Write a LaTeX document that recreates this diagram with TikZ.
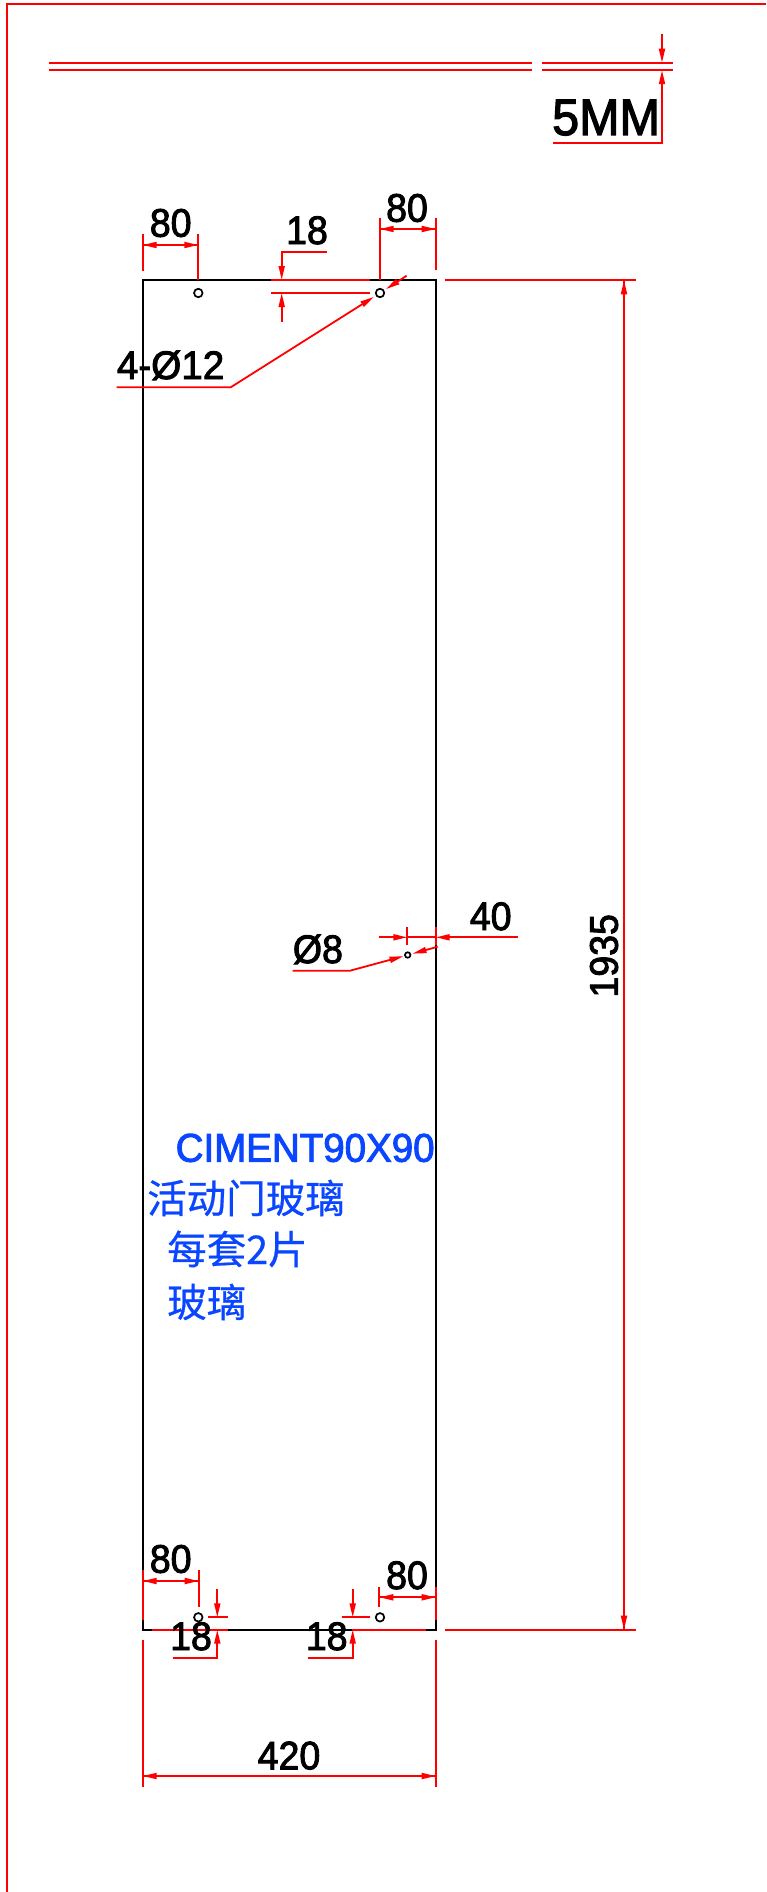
\documentclass[tikz,border=0pt]{standalone}
\usepackage{fontspec}
\setmainfont{Liberation Sans}
\newfontfamily\cadfont[FakeBold=2.4]{Liberation Sans}
\newfontfamily\cjk[FakeBold=0.6]{Noto Sans CJK SC}
\usetikzlibrary{arrows.meta}
\definecolor{cadred}{RGB}{255,0,0}
\definecolor{cadblue}{RGB}{10,70,255}
\tikzset{
  x=1pt,y=-1pt,
  redline/.style={draw=cadred,line width=1.8pt},
  dimline/.style={redline,-{Stealth[length=14pt,width=6pt,inset=0pt]}},
  outline/.style={draw=black,line width=1.9pt},
  hole/.style={circle,draw=black,line width=1.7pt,inner sep=0pt,minimum size=8.5pt},
  smallhole/.style={circle,draw=black,line width=1.7pt,inner sep=0pt,minimum size=5.5pt},
  dimtext/.style={inner sep=0pt,text=black,yscale=1.06,font=\cadfont\fontsize{37.5}{37.5}\selectfont},
  notetext/.style={inner sep=0pt,text=cadblue,yscale=1.04,font=\cadfont\fontsize{38.5}{39}\selectfont},
  cjktext/.style={inner sep=0pt,text=cadblue,font=\cjk\fontsize{39.5}{39}\selectfont},
}
\begin{document}
\begin{tikzpicture}
\useasboundingbox (0,0) rectangle (766,1892);
% drawing frame
\coordinate (fa) at (6.8,1892); \coordinate (fb) at (6.8,4.3); \coordinate (fc) at (766,4.3);
\draw[redline] (fa) -- (fb) -- (fc);
% double lines
\coordinate (d1a) at (49,62.7); \coordinate (d1b) at (532,62.7);
\coordinate (d2a) at (49,70.2); \coordinate (d2b) at (532,70.2);
\coordinate (d3a) at (542,62.7); \coordinate (d3b) at (673,62.7);
\coordinate (d4a) at (542,70.2); \coordinate (d4b) at (673,70.2);
\draw[redline] (d1a) -- (d1b) (d2a) -- (d2b) (d3a) -- (d3b) (d4a) -- (d4b);
% glass panel
\coordinate (pTL) at (142.7,280); \coordinate (pTR) at (435.7,280);
\coordinate (pBR) at (435.7,1629.7); \coordinate (pBL) at (142.7,1629.7);
\draw[outline] (pTL) -- (pTR) -- (pBR) -- (pBL) -- cycle;
\node[hole] (h1) at (198.3,293) {};
\node[hole] (h2) at (380,293) {};
\node[hole] (h3) at (198.3,1617.3) {};
\node[hole] (h4) at (380,1617.3) {};
\node[smallhole] (h5) at (407.7,955) {};
% 5MM
\coordinate (m1) at (662,34); \coordinate (m2) at (662,62.7);
\coordinate (m3) at (662,70.2); \coordinate (m4) at (662,142.7); \coordinate (m5) at (553,142.7);
\draw[dimline] (m1) -- (m2);
\draw[dimline] (m5) -- (m4) -- (m3);
\node[inner sep=0pt,anchor=base west,yscale=1.06,font=\cadfont\fontsize{48.5}{50}\selectfont] (t5mm) at (552,135) {5MM};
% top 80 left
\coordinate (a1) at (142.7,234); \coordinate (a2) at (142.7,270.7);
\coordinate (a3) at (198.3,234); \coordinate (a4) at (198.3,280);
\coordinate (a5) at (142.7,245); \coordinate (a6) at (198.3,245);
\draw[redline] (a1) -- (a2) (a3) -- (a4);
\draw[dimline] (a5) -- (a6);
\draw[dimline] (a6) -- (a5);
\node[dimtext,anchor=base] (t80a) at (170.7,236.7) {80};
% top 80 right
\coordinate (b1) at (379.7,218); \coordinate (b2) at (379.7,280);
\coordinate (b3) at (435.7,218); \coordinate (b4) at (435.7,270);
\coordinate (b5) at (379.7,229); \coordinate (b6) at (435.7,229);
\draw[redline] (b1) -- (b2) (b3) -- (b4);
\draw[dimline] (b5) -- (b6);
\draw[dimline] (b6) -- (b5);
\node[dimtext,anchor=base] (t80b) at (407,221.7) {80};
% top 18
\coordinate (c1) at (326.7,252); \coordinate (c2) at (281.7,252); \coordinate (c3) at (281.7,280);
\coordinate (c4) at (281.7,321.7); \coordinate (c5) at (281.7,293);
\coordinate (c6) at (271,280); \coordinate (c7) at (370,280);
\coordinate (c8) at (271,293); \coordinate (c9) at (370,293);
\draw[dimline] (c1) -- (c2) -- (c3);
\draw[dimline] (c4) -- (c5);
\draw[redline] (c6) -- (c7) (c8) -- (c9);
\node[dimtext,anchor=base] (t18a) at (307,244) {18};
% 4-dia12 leader
\coordinate (e1) at (116.7,387.3); \coordinate (e2) at (230.7,387.3);
\coordinate (e3) at (374,296.8); \coordinate (e4) at (406.7,275.7); \coordinate (e5) at (386,289.1);
\draw[dimline] (e1) -- (e2) -- (e3);
\draw[dimline] (e4) -- (e5);
\node[dimtext,anchor=base west,xscale=1.03] (t412) at (116.7,379) {4-Ø12};
% dia8 and 40
\coordinate (g1) at (292.7,970.7); \coordinate (g2) at (350,970.7); \coordinate (g3) at (403.5,956.2);
\coordinate (g4) at (437.7,946.7); \coordinate (g5) at (412.5,953.7);
\draw[dimline] (g1) -- (g2) -- (g3);
\draw[dimline] (g4) -- (g5);
\node[dimtext,anchor=base west] (td8) at (292.7,963) {Ø8};
\coordinate (k1) at (379,937.3); \coordinate (k2) at (407.3,937.3);
\coordinate (k3) at (518,937.3); \coordinate (k4) at (435.7,937.3);
\coordinate (k5) at (407.3,926.7); \coordinate (k6) at (407.3,945);
\coordinate (k7) at (435.7,926.7); \coordinate (k8) at (435.7,945);
\draw[dimline] (k1) -- (k2);
\draw[dimline] (k3) -- (k4);
\draw[redline] (k5) -- (k6) (k7) -- (k8) (k2) -- (k4);
\node[dimtext,anchor=base] (t40) at (490.7,930) {40};
% blue notes
\node[notetext,anchor=base west] (n1) at (175.5,1161.7) {CIMENT90X90};
\node[cjktext,anchor=base west] (n2) at (147,1213) {活动门玻璃};
\node[cjktext,anchor=base west] (n3) at (167,1264) {每套2片};
\node[cjktext,anchor=base west] (n4) at (167,1317) {玻璃};
% 1935
\coordinate (v1) at (445,280.3); \coordinate (v2) at (635.7,280.3);
\coordinate (v3) at (445,1629.7); \coordinate (v4) at (635.7,1629.7);
\coordinate (v5) at (624,280.3); \coordinate (v6) at (624,1629.7);
\draw[redline] (v1) -- (v2) (v3) -- (v4);
\draw[dimline] (v5) -- (v6);
\draw[dimline] (v6) -- (v5);
\node[inner sep=0pt,text=black,xscale=1.06,font=\cadfont\fontsize{37.5}{37.5}\selectfont,anchor=base,rotate=90] (t1935) at (617.7,955.8) {1935};
% bottom 80 left
\coordinate (p1) at (142.7,1570); \coordinate (p2) at (142.7,1620);
\coordinate (p3) at (198.7,1570); \coordinate (p4) at (198.7,1607);
\coordinate (p5) at (142.7,1581); \coordinate (p6) at (198.7,1581);
\draw[redline] (p1) -- (p2) (p3) -- (p4);
\draw[dimline] (p5) -- (p6);
\draw[dimline] (p6) -- (p5);
\node[dimtext,anchor=base] (t80c) at (170.7,1572.7) {80};
% bottom 80 right
\coordinate (q1) at (379.3,1586.7); \coordinate (q2) at (379.3,1607);
\coordinate (q3) at (435.7,1586.7); \coordinate (q4) at (435.7,1620);
\coordinate (q5) at (379.3,1597.3); \coordinate (q6) at (435.7,1597.3);
\draw[redline] (q1) -- (q2) (q3) -- (q4);
\draw[dimline] (q5) -- (q6);
\draw[dimline] (q6) -- (q5);
\node[dimtext,anchor=base] (t80d) at (407,1589) {80};
% bottom red overlays
\coordinate (r1) at (152.3,1629.7); \coordinate (r2) at (228.3,1629.7);
\coordinate (r3) at (351.7,1629.7); \coordinate (r4) at (426,1629.7);
\draw[redline] (r1) -- (r2) (r3) -- (r4);
% bottom 18 left
\coordinate (s1) at (217.3,1589.3); \coordinate (s2) at (217.3,1617.3);
\coordinate (s3) at (172.7,1657.7); \coordinate (s4) at (217.3,1657.7); \coordinate (s5) at (217.3,1629.7);
\coordinate (s6) at (208.3,1617.3); \coordinate (s7) at (228.3,1617.3);
\draw[dimline] (s1) -- (s2);
\draw[dimline] (s3) -- (s4) -- (s5);
\draw[redline] (s6) -- (s7);
\node[dimtext,anchor=base] (t18b) at (191,1650) {18};
% bottom 18 right
\coordinate (u1) at (352.7,1589.3); \coordinate (u2) at (352.7,1617.3);
\coordinate (u3) at (307.7,1657.7); \coordinate (u4) at (352.7,1657.7); \coordinate (u5) at (352.7,1629.7);
\coordinate (u6) at (341.7,1617.3); \coordinate (u7) at (370,1617.3);
\draw[dimline] (u1) -- (u2);
\draw[dimline] (u3) -- (u4) -- (u5);
\draw[redline] (u6) -- (u7);
\node[dimtext,anchor=base] (t18c) at (326.7,1650) {18};
% 420
\coordinate (w1) at (142.7,1640); \coordinate (w2) at (142.7,1786.7);
\coordinate (w3) at (435.7,1640); \coordinate (w4) at (435.7,1786.7);
\coordinate (w5) at (142.7,1776); \coordinate (w6) at (435.7,1776);
\draw[redline] (w1) -- (w2) (w3) -- (w4);
\draw[dimline] (w5) -- (w6);
\draw[dimline] (w6) -- (w5);
\node[dimtext,anchor=base] (t420) at (289,1769.3) {420};
\end{tikzpicture}
\end{document}
